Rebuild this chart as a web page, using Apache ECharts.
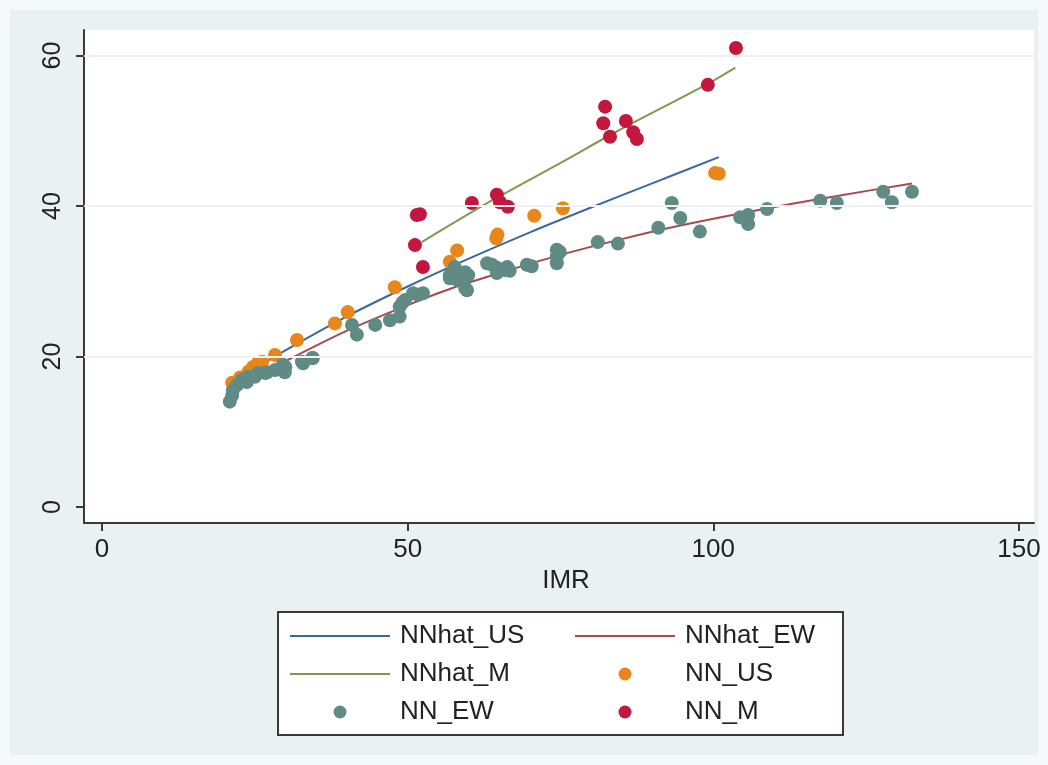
<!DOCTYPE html>
<html>
<head>
<meta charset="utf-8">
<script src="https://cdn.jsdelivr.net/npm/echarts@6/dist/echarts.min.js"></script>
<style>
  html, body { margin: 0; padding: 0; background: #f6f9fa; }
  #chart { width: 1048px; height: 765px; background: #e9f1f3; box-shadow: inset 0 0 0 10px #f6f9fa; }
</style>
</head>
<body>
<div id="chart"></div>
<script>
// Axis ticks
const xTicks = [0, 50, 100, 150];
const yTicks = [0, 20, 40, 60];

// Fitted curves (IMR -> predicted NN)
const usFitX = [21.3, 30, 40, 50, 60, 70, 80, 90, 100.9];
const usFitY = [16.5, 20.8, 25.3, 29.3, 33.0, 36.5, 39.8, 43.0, 46.5];
const ewFitX = [20.9, 25, 30.8, 40, 48.7, 57, 65.1, 75, 85, 94.6, 107.6, 120, 132.5];
const ewFitY = [14.5, 17.2, 19.7, 23.4, 26.4, 29.0, 31.1, 33.5, 35.6, 37.4, 39.5, 41.3, 43.0];
const mFitX = [52.3, 63.5, 75.4, 84.2, 99, 103.6];
const mFitY = [35.2, 40.6, 45.9, 49.9, 56.2, 58.4];

// Observed NN, US
const usX = [21.3, 22.6, 24.0, 24.7, 25.5, 26.2, 28.3, 31.9, 38.1, 40.2, 47.9, 56.9, 58.1, 64.5, 64.7, 70.7, 75.4, 100.3, 100.9];
const usY = [16.5, 17.2, 18.0, 18.6, 19.1, 19.3, 20.2, 22.2, 24.4, 25.9, 29.2, 32.6, 34.1, 35.7, 36.2, 38.7, 39.7, 44.4, 44.3];

// Observed NN, England & Wales
const ewX = [20.9, 21.3, 21.4, 22.1, 22.9, 23.7, 23.9, 25.0, 25.5, 26.7,
             27.0, 28.3, 29.6, 29.9, 30.0, 32.7, 32.9, 34.4, 34.5, 40.9,
             41.7, 44.7, 47.1, 48.7, 48.7, 49.2, 49.6, 50.9, 51.7, 52.5,
             56.9, 56.9, 57.7, 57.7, 58.1, 58.1, 58.6, 59.4, 59.4, 59.7,
             59.9, 63.0, 63.8, 64.6, 64.6, 65.1, 65.9, 66.3, 66.7, 69.5,
             70.3, 74.4, 74.4, 74.4, 74.9, 81.1, 84.4, 91.0, 93.2, 94.6,
             97.8, 104.4, 105.7, 105.7, 108.8, 117.5, 120.2, 127.8, 129.2, 132.5];
const ewY = [14.0, 14.8, 15.5, 16.2, 16.9, 16.6, 17.3, 17.3, 17.8, 17.8,
             17.9, 18.2, 18.9, 17.9, 18.6, 19.3, 19.1, 19.8, 19.8, 24.2,
             22.9, 24.2, 24.8, 25.3, 26.6, 27.2, 27.5, 28.4, 28.2, 28.4,
             30.4, 30.8, 31.5, 31.9, 31.2, 30.2, 30.8, 31.2, 29.1, 28.8,
             30.8, 32.4, 32.2, 31.8, 31.1, 31.5, 31.5, 31.9, 31.4, 32.2,
             32.0, 34.2, 33.3, 32.4, 33.9, 35.2, 35.0, 37.1, 40.4, 38.4,
             36.6, 38.5, 38.8, 37.6, 39.6, 40.7, 40.4, 41.9, 40.5, 41.9];

// Observed NN, M
const mX = [51.2, 51.5, 52.0, 52.5, 60.5, 64.6, 65.1, 66.4, 82.0, 82.3, 83.1, 85.7, 86.9, 87.5, 99.1, 103.7];
const mY = [34.8, 38.8, 38.9, 31.9, 40.4, 41.5, 40.5, 39.9, 51.0, 53.2, 49.2, 51.3, 49.8, 48.9, 56.1, 61.0];

const legendLeft = ['NNhat_US', 'NNhat_M', 'NN_EW'];
const legendRight = ['NNhat_EW', 'NN_US', 'NN_M'];
const fitNames = ['NNhat_US', 'NNhat_EW', 'NNhat_M'];

const pairs = (xs, ys) => xs.map((x, i) => [x, ys[i]]);

const FONT = '"Liberation Sans", Arial, Helvetica, sans-serif';
const TEXT = '#222222';
const AXIS = '#3a3a3a';

// plain stroke for fitted-line keys, dot for marker keys
const LINE_KEY = 'path://M0 0H100V2H0Z';
const legendItems = names => names.map(n =>
  fitNames.includes(n) ? { name: n, icon: LINE_KEY } : { name: n, icon: 'circle' });

const lineSeries = (name, xs, ys, color) => ({
  name, type: 'line', data: pairs(xs, ys), smooth: 0.3,
  symbol: 'none', showSymbol: false, z: 2,
  lineStyle: { color, width: 2 }, itemStyle: { color },
  emphasis: { disabled: true }
});
const dotSeries = (name, xs, ys, color) => ({
  name, type: 'scatter', data: pairs(xs, ys), symbol: 'circle', symbolSize: 14, z: 3,
  itemStyle: { color, opacity: 1 }, emphasis: { disabled: true }
});

const legendBase = {
  orient: 'vertical', top: 621, padding: 0, itemGap: 8,
  itemWidth: 100, itemHeight: 13, selectedMode: false,
  textStyle: { fontFamily: FONT, fontSize: 26, color: TEXT, lineHeight: 30, padding: [0, 0, 0, 5] }
};

const chart = echarts.init(document.getElementById('chart'), null, { renderer: 'canvas' });
chart.setOption({
  animation: false,
  backgroundColor: 'transparent',
  textStyle: { fontFamily: FONT },
  grid: {
    left: 84, top: 30, right: 14, bottom: 242,
    show: true, backgroundColor: '#ffffff', borderWidth: 0,
    outerBoundsMode: 'none'
  },
  xAxis: {
    type: 'value', min: -2.94, max: 152.46,
    name: 'IMR', nameLocation: 'middle', nameGap: 41,
    nameTextStyle: { fontFamily: FONT, fontSize: 26, color: TEXT, padding: [0, 0, 0, 14] },
    axisLine: { show: true, onZero: false, lineStyle: { color: AXIS, width: 2 } },
    axisTick: { show: true, length: 8, customValues: xTicks, lineStyle: { color: AXIS, width: 2 } },
    axisLabel: { customValues: xTicks, fontSize: 26, color: TEXT, margin: 14, fontFamily: FONT },
    splitLine: { show: false }
  },
  yAxis: {
    type: 'value', min: -2.13, max: 63.39,
    axisLine: { show: true, onZero: false, lineStyle: { color: AXIS, width: 2 } },
    axisTick: { show: true, length: 8, customValues: yTicks, lineStyle: { color: AXIS, width: 2 } },
    axisLabel: { customValues: yTicks, rotate: 90, fontSize: 25, color: TEXT, margin: 18, fontFamily: FONT },
    splitLine: { show: false }
  },
  legend: [
    Object.assign({}, legendBase, { left: 290, data: legendItems(legendLeft) }),
    Object.assign({}, legendBase, { left: 575, data: legendItems(legendRight) })
  ],
  graphic: [{
    type: 'rect', z: 1, silent: true,
    shape: { x: 278, y: 612, width: 565, height: 123 },
    style: { fill: '#ffffff', stroke: '#3a3a3a', lineWidth: 2 }
  }],
  series: [
    {
      name: 'gridlines', type: 'line', data: [], z: 1, silent: true,
      markLine: {
        silent: true, symbol: ['none', 'none'], label: { show: false },
        lineStyle: { color: '#eef2f4', width: 2, type: 'solid' },
        emphasis: { disabled: true },
        data: yTicks.filter(v => v > 0).map(v => ({ yAxis: v }))
      }
    },
    lineSeries('NNhat_US', usFitX, usFitY, '#3a68a0'),
    lineSeries('NNhat_EW', ewFitX, ewFitY, '#a8494e'),
    lineSeries('NNhat_M', mFitX, mFitY, '#7e9a50'),
    dotSeries('NN_US', usX, usY, '#e8861a'),
    dotSeries('NN_EW', ewX, ewY, '#608b85'),
    dotSeries('NN_M', mX, mY, '#c3173d')
  ]
});
</script>
</body>
</html>
